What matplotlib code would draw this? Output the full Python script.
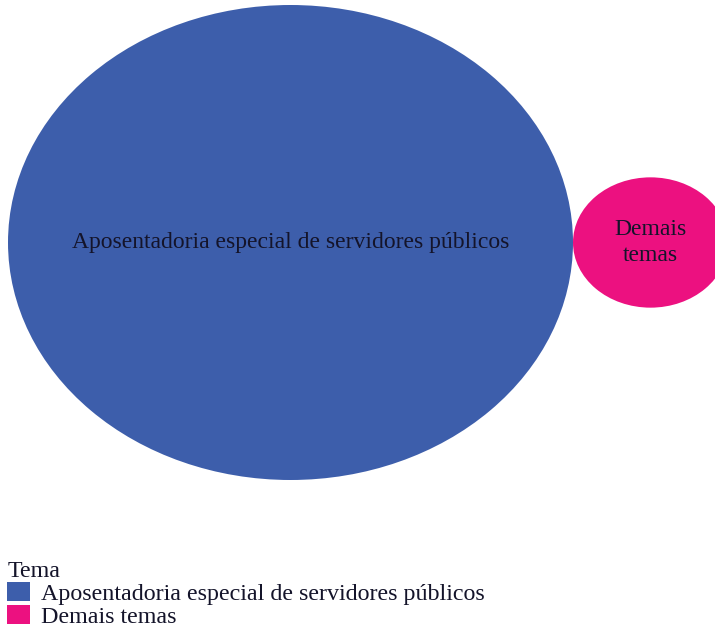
import matplotlib

matplotlib.use("Agg")
import matplotlib.pyplot as plt
import numpy as np
from matplotlib.patches import Ellipse, Patch

# Dados do grafico de bolhas (participacao por tema)
temas = ["Aposentadoria especial de servidores públicos", "Demais temas"]
rotulos = ["Aposentadoria especial de servidores públicos", "Demais\ntemas"]
valores = [93.0, 7.0]
cores = ["#3D5EAB", "#EC1180"]

plt.rcParams["font.family"] = ["Liberation Serif", "DejaVu Serif"]

fig = plt.figure(figsize=(7.15, 6.27), dpi=100)
ax = fig.add_axes([0, 0, 1, 1])
ax.set_axis_off()

# raio proporcional a raiz do valor (area ~ valor)
raios = np.sqrt(np.array(valores) / valores[0])
centros_x = [0.0, raios[0] + raios[1]]

for cx, r, cor, rot in zip(centros_x, raios, cores, rotulos):
    ax.add_patch(Ellipse((cx, 0), 2 * r, 2 * r, facecolor=cor, edgecolor="none"))
    ax.text(cx, 0, rot, ha="center", va="center", fontsize=17,
            color="#14142a", linespacing=1.3)

# escala em pixels por unidade (bolhas ficam achatadas como no original)
px_x = 282.5
px_y = 237.5
ax.set_xlim(-290.5 / px_x, (715 - 290.5) / px_x)
ax.set_ylim(-(627 - 242.5) / px_y, 242.5 / px_y)

handles = [Patch(facecolor=c, edgecolor="none") for c in cores]
leg = fig.legend(handles, temas, title="Tema", loc="upper left",
                 bbox_to_anchor=(0.01, 1 - 561 / 627), frameon=False,
                 fontsize=17.3, title_fontsize=17.3, alignment="left",
                 handlelength=0.95, handleheight=0.85, handletextpad=0.45,
                 borderpad=0.0, borderaxespad=0.0, labelspacing=0.0)
for t in leg.get_texts():
    t.set_color("#14142a")
leg.get_title().set_color("#14142a")

fig.savefig("out.png", dpi=100)
